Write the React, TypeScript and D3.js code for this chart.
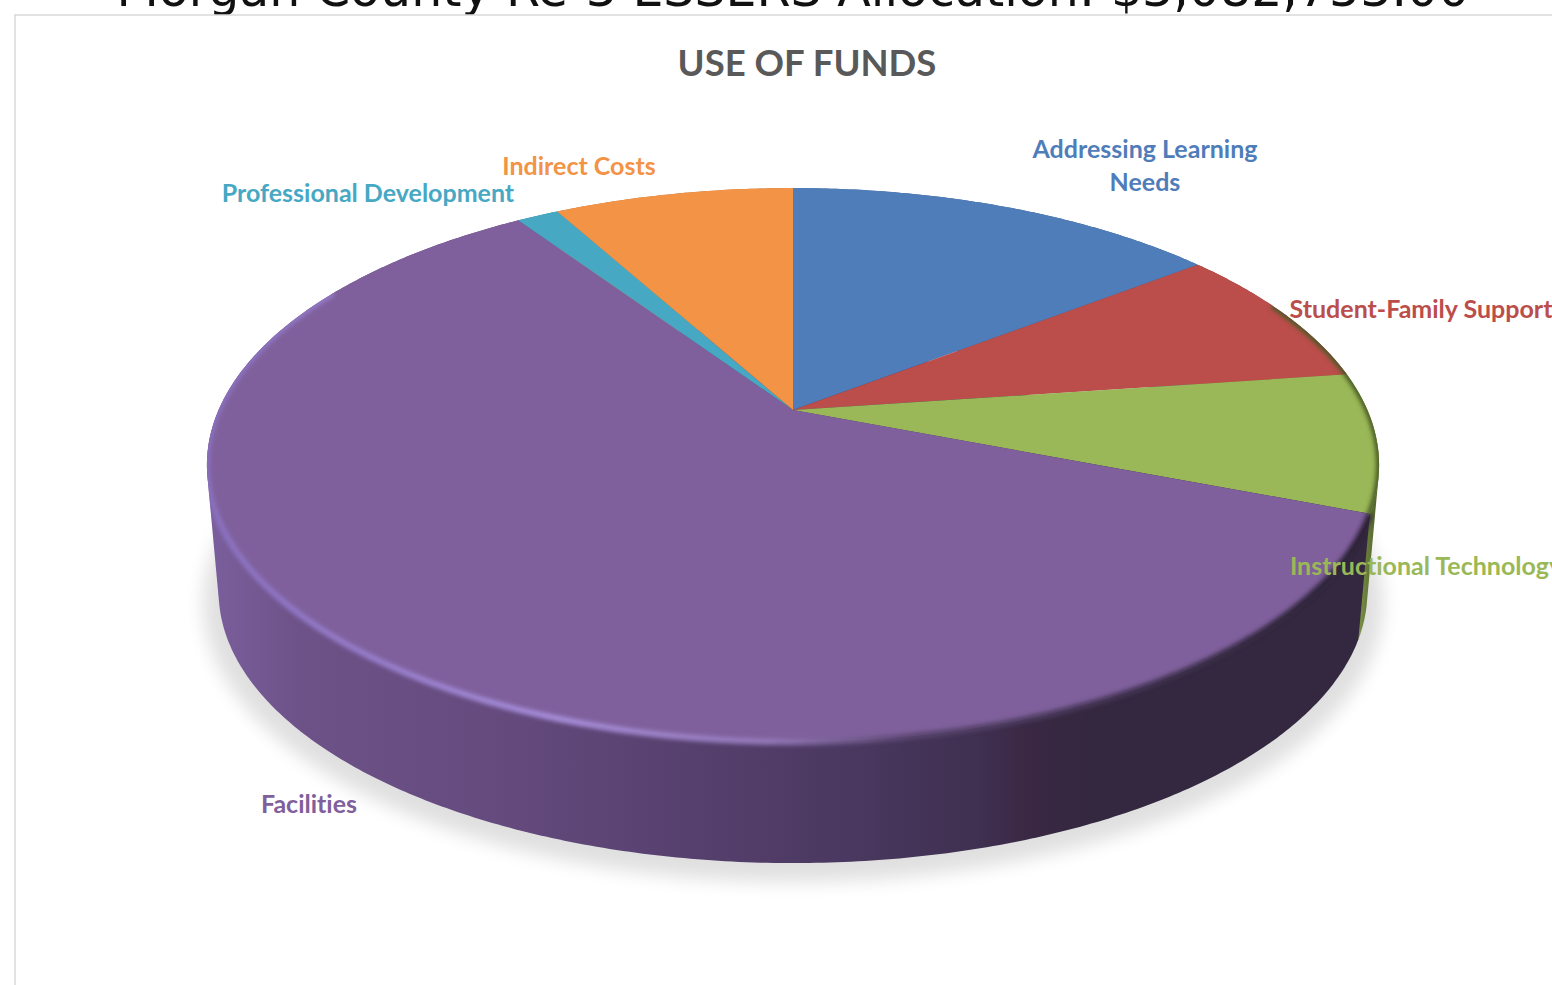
import * as d3 from 'd3';
import React from 'react';

const categories = [
  'Addressing Learning Needs',
  'Student-Family Support',
  'Instructional Technology',
  'Facilities',
  'Professional Development',
  'Indirect Costs',
];
// share of funds in percent
const shares = [14.5, 8.3, 8.1, 59.7, 1.4, 8.0];
const colors = ['#4f7db9', '#bb4d4a', '#9ab857', '#7f609c', '#47a8c4', '#f39345'];
const wallColors = ['#3d5f8d', '#8f3b39', '#5d7035', '#7f609c', '#367f95', '#b96f33'];

const pageTitle = 'Morgan County Re-3 ESSERS Allocation: $3,082,753.00';
const chartTitle = 'USE OF FUNDS';

const labelLines = [['Addressing Learning', 'Needs'], ['Student-Family Support'], ['Instructional Technology'], ['Facilities'], ['Professional Development'], ['Indirect Costs']];
const labelPos = [[1145, 158], [1421, 318], [1426, 575], [309, 813], [368, 202], [579, 175]];

const cx = 793;
const cy = 410;
const persp = 0.1986;
const yScale = 266;
const xScaleK = 574.4;
const wallShrink = 0.98;
const vanishY = 6800;

// circle on the tilted plane -> screen, angle clockwise from 12 o'clock
const project = (a: number, r = 1): [number, number] => {
  const u = r * Math.sin(a);
  const v = r * Math.cos(a);
  const d = 1 + persp * v;
  return [cx + (xScaleK * u) / d, cy - (yScale * v) / d];
};
const projectBottom = (a: number): [number, number] => {
  const [x, y] = project(a);
  return [cx + (x - cx) * wallShrink, vanishY + (y - vanishY) * wallShrink];
};

const arcs = d3.pie<number>().sort(null)(shares);
const line = d3.line();
const sample = (a0: number, a1: number) => {
  const n = Math.max(2, Math.ceil(Math.abs(a1 - a0) / 0.01));
  return d3.range(n + 1).map((i) => a0 + ((a1 - a0) * i) / n);
};
const facePath = (a0: number, a1: number) =>
  line([[cx, cy], ...sample(a0, a1).map((a) => project(a))])! + 'Z';
// hull of both rims, the part behind the top face gets painted over
const wallPath = (a0: number, a1: number) =>
  line(d3.polygonHull([...sample(a0, a1).map((a) => project(a)), ...sample(a0, a1).map(projectBottom)])!)! + 'Z';
const rimPath = (a0: number, a1: number) => line(sample(a0, a1).map((a) => project(a)))!;

const wholeFace = line(sample(0, Math.PI * 2).map((a) => project(a)))! + 'Z';
const wholeSolid = wallPath(0, Math.PI * 2);

const wallStops: [number, string][] = [
  [0, '#7a5f9d'],
  [0.08, '#6d5288'],
  [0.25, '#654a7e'],
  [0.4, '#57416f'],
  [0.55, '#4a3860'],
  [0.66, '#3f2f50'],
  [0.7, '#3a2844'],
  [0.76, '#33283f'],
  [1, '#33283f'],
];

export default function App() {
  return (
    <svg
      width={1552}
      height={985}
      style={{ position: 'absolute', left: 0, top: 0, background: '#fff', fontVariantLigatures: 'none' }}
      fontFamily="Lato, sans-serif"
    >
      <defs>
        <filter id="shadowBlur" x="-10%" y="-10%" width="120%" height="120%">
          <feGaussianBlur stdDeviation="9" />
        </filter>
        <filter id="bevelBlur" x="-5%" y="-5%" width="110%" height="110%">
          <feGaussianBlur stdDeviation="2" />
        </filter>
        <linearGradient id="wallGrad" gradientUnits="userSpaceOnUse" x1={207} x2={1379} y1={0} y2={0}>
          {wallStops.map(([o, c]) => (
            <stop key={o} offset={o} stopColor={c} />
          ))}
        </linearGradient>
        <linearGradient id="greenWall" gradientUnits="userSpaceOnUse" x1={1358} x2={1380} y1={0} y2={0}>
          <stop offset={0} stopColor="#7d9347" />
          <stop offset={1} stopColor="#4a5a28" />
        </linearGradient>
        <linearGradient id="bevelGrad" gradientUnits="userSpaceOnUse" x1={207} x2={1379} y1={0} y2={0}>
          <stop offset={0} stopColor="#8a70c0" />
          <stop offset={0.3} stopColor="#a88fdc" />
          <stop offset={0.48} stopColor="#9479b8" />
          <stop offset={0.6} stopColor="#5a4670" />
          <stop offset={1} stopColor="#2c2236" />
        </linearGradient>
        <clipPath id="solidClip">
          <path d={wholeSolid} />
        </clipPath>
        <clipPath id="faceClip">
          <path d={wholeFace} />
        </clipPath>
      </defs>

      <text x={793} y={6} textAnchor="middle" fontFamily="DejaVu Sans" fontSize={49} fill="#111">
        {pageTitle}
      </text>
      <rect x={15} y={15} width={1560} height={990} fill="#fff" stroke="#d9d9d9" strokeWidth={1.5} />

      <text x={807} y={76} textAnchor="middle" fontSize={36.5} fontWeight={700} fill="#595959">
        {chartTitle}
      </text>

      <ellipse cx={793} cy={603} rx={590} ry={279} fill="#000" opacity={0.12} filter="url(#shadowBlur)" />

      {/* walls, only the ones facing the viewer show past the top face */}
      {arcs.map((d, i) => (
        <path
          key={categories[i]}
          d={wallPath(d.startAngle, d.endAngle)}
          fill={i === 3 ? 'url(#wallGrad)' : i === 2 ? 'url(#greenWall)' : wallColors[i]}
        />
      ))}

      {arcs.map((d, i) => (
        <path key={categories[i]} d={facePath(d.startAngle, d.endAngle)} fill={colors[i]} />
      ))}

      {/* bevel along the front rim of the top face */}
      <g clipPath="url(#solidClip)">
        <path
          d={rimPath(arcs[3].startAngle, Math.PI * 1.66)}
          fill="none"
          stroke="url(#bevelGrad)"
          strokeWidth={6}
          filter="url(#bevelBlur)"
        />
      </g>
      <g clipPath="url(#faceClip)">
        <path
          d={rimPath(Math.PI * 0.36, arcs[2].endAngle)}
          fill="none"
          stroke="#4a5a28"
          strokeWidth={6}
          filter="url(#bevelBlur)"
        />
      </g>

      {categories.map((c, i) => (
        <text
          key={c}
          x={labelPos[i][0]}
          y={labelPos[i][1]}
          textAnchor="middle"
          fontSize={25}
          fontWeight={700}
          fill={colors[i]}
        >
          {labelLines[i].map((t, j) => (
            <tspan key={t} x={labelPos[i][0]} dy={j === 0 ? 0 : 33}>
              {t}
            </tspan>
          ))}
        </text>
      ))}
    </svg>
  );
}
